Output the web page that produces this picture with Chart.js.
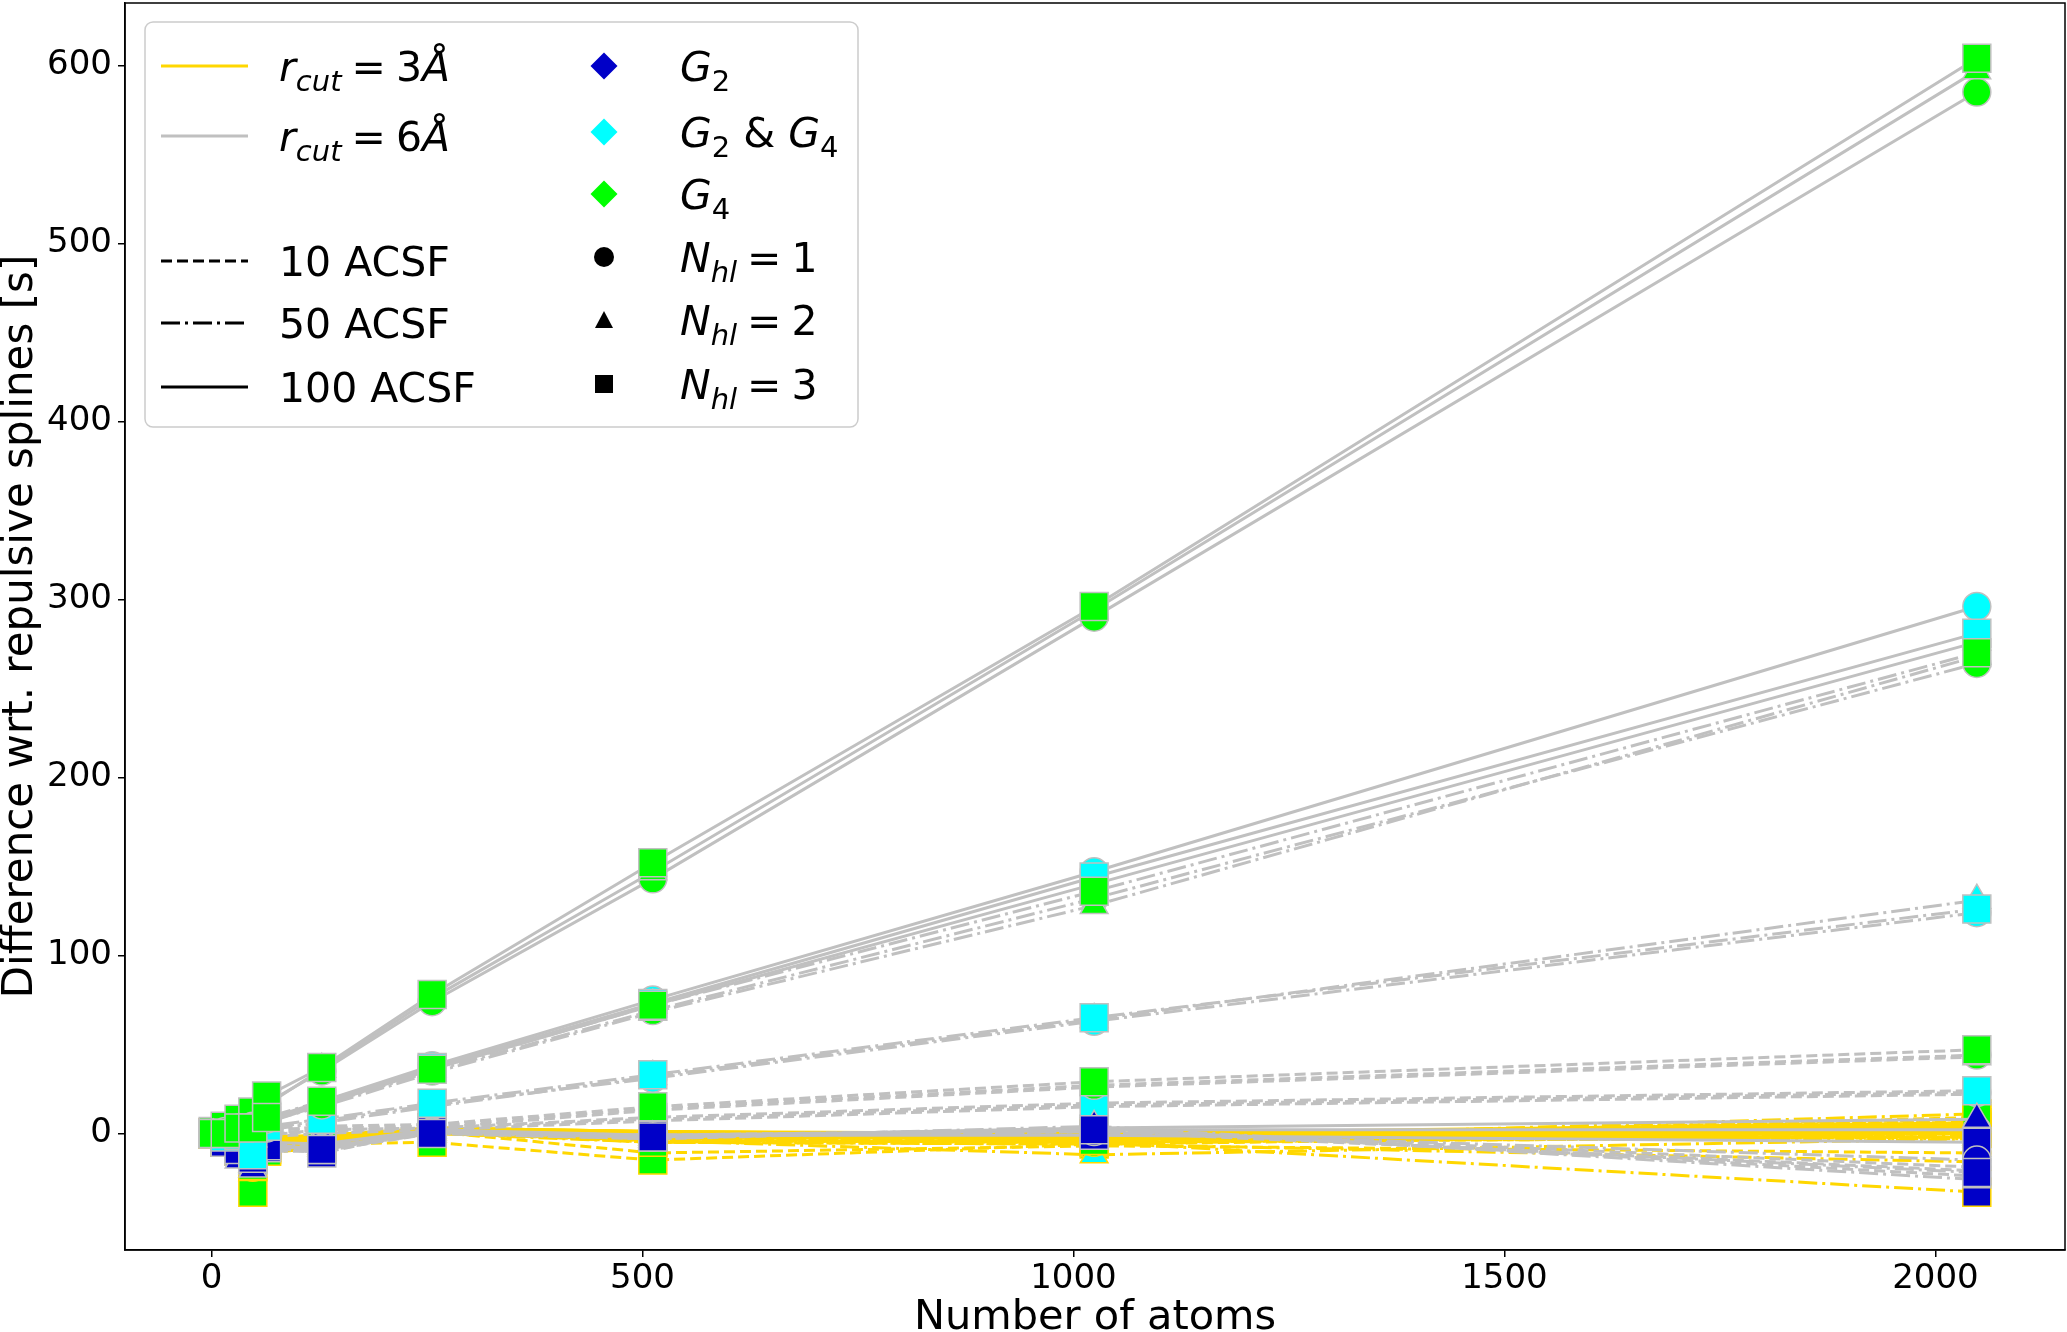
<!DOCTYPE html>
<html>
<head>
<meta charset="utf-8">
<script src="https://cdn.jsdelivr.net/npm/chart.js@4.4.0/dist/chart.umd.min.js"></script>
<style>
  html, body { margin: 0; padding: 0; background: #fff; }
  #wrap { width: 2067px; height: 1332px; }
</style>
</head>
<body>
<div id="wrap"><canvas id="timingChart"></canvas></div>
<script>
// number of atoms in each test cell
const atoms = [2, 16, 32, 48, 64, 128, 256, 512, 1024, 2048];
const xTicks = [0, 500, 1000, 1500, 2000];
const yTicks = [0, 100, 200, 300, 400, 500, 600];

// r_cut = 3 A (gold)
const r3_10_G2_N1   = [0, -3, -7, -10, -5, -4, 1, -1, -3, 4];
const r3_10_G2_N2   = [-1, -5, -10, -15, -8, -6, 0, -3, -5, 2];
const r3_10_G2_N3   = [0, -4, -8, -12, -6, -7, 2, -2, -4, 3];
const r3_10_G24_N1  = [0, -3, -6, -9, -4, -2, 2, 0, -2, 7];
const r3_10_G24_N2  = [-1, -5, -9, -14, -7, -4, 1, -2, -4, 9];
const r3_10_G24_N3  = [0, -4, -7, -11, -5, -3, 2, -1, -3, 8];
const r3_10_G4_N1   = [0, -4, -9, -16, -8, -5, 1, -11, -7, -11];
const r3_10_G4_N2   = [-1, -6, -12, -20, -10, -7, 0, -4, -5, -2];
const r3_10_G4_N3   = [0, -5, -10, -33, -9, -6, -5, -15, -6, 0];
const r3_50_G2_N1   = [0, -4, -8, -12, -6, -5, 2, -3, -4, -3];
const r3_50_G2_N2   = [-1, -6, -11, -17, -9, -7, 1, -5, -6, -16];
const r3_50_G2_N3   = [0, -5, -9, -14, -7, -8, 2, -4, -5, -33];
const r3_50_G24_N1  = [0, -3, -7, -10, -5, -3, 2, -2, -3, 1];
const r3_50_G24_N2  = [-1, -5, -10, -15, -8, -5, 1, -4, -12, -3];
const r3_50_G24_N3  = [0, -4, -8, -12, -6, -4, 2, -3, -4, 0];
const r3_50_G4_N1   = [0, -4, -9, -19, -9, -6, 1, -4, -5, -1];
const r3_50_G4_N2   = [-1, -6, -12, -22, -11, -8, 0, -5, -6, 2];
const r3_50_G4_N3   = [0, -5, -10, -18, -10, -7, 1, -5, -4, 11];
const r3_100_G2_N1  = [0, -2, -5, -8, -3, -2, 3, 0, -2, 3];
const r3_100_G2_N2  = [-1, -4, -8, -12, -6, -4, 2, -1, -3, 1];
const r3_100_G2_N3  = [0, -3, -6, -10, -4, -3, 3, 1, -1, 4];
const r3_100_G24_N1 = [0, -2, -4, -7, -2, -1, 3, 1, -1, 5];
const r3_100_G24_N2 = [-1, -4, -7, -11, -5, -3, 2, 0, -2, 2];
const r3_100_G24_N3 = [0, -3, -5, -9, -3, -2, 3, 1, 0, 6];
const r3_100_G4_N1  = [0, -3, -6, -10, -4, -2, 2, -1, -2, 0];
const r3_100_G4_N2  = [-1, -5, -9, -14, -7, -5, 1, -2, -3, -2];
const r3_100_G4_N3  = [0, -4, -7, -12, -5, -3, 3, 0, -1, 1];

// r_cut = 6 A (silver)
const r6_10_G2_N1   = [0, -4, -9, -13, -7, -8, 1, -1, 2, -19];
const r6_10_G2_N2   = [-1, -6, -12, -18, -10, -10, 0, -3, 3, -24];
const r6_10_G2_N3   = [0, -5, -10, -15, -8, -11, 2, -2, 1, -21];
const r6_10_G24_N1  = [0, -2, -3, -5, 0, 1, 3, 8, 16, 23];
const r6_10_G24_N2  = [-1, -4, -6, -8, -2, 0, 2, 7, 15, 22];
const r6_10_G24_N3  = [0, -3, -5, -12, -1, 2, 3, 9, 17, 24];
const r6_10_G4_N1   = [0, -1, -2, -4, 2, 3, 4, 14, 27, 44];
const r6_10_G4_N2   = [-1, -3, -4, -6, 0, 2, 3, 13, 26, 43];
const r6_10_G4_N3   = [0, -2, -3, -5, 1, 4, 5, 15, 29, 47];
const r6_50_G2_N1   = [0, -4, -8, -12, -6, -7, 1, -2, 1, -15];
const r6_50_G2_N2   = [-1, -6, -11, -17, -9, -9, 0, -3, 4, -26];
const r6_50_G2_N3   = [0, -5, -9, -14, -7, -9, 0, -2, 2, -22];
const r6_50_G24_N1  = [0, -1, 0, -1, 3, 7, 16, 31, 63, 124];
const r6_50_G24_N2  = [-1, -3, -2, -3, 2, 6, 15, 32, 64, 131];
const r6_50_G24_N3  = [0, -2, -1, -12, 4, 8, 17, 33, 65, 126];
const r6_50_G4_N1   = [0, 1, 3, 4, 8, 16, 35, 69, 132, 264];
const r6_50_G4_N2   = [-1, -1, 2, 2, 7, 15, 34, 68, 128, 268];
const r6_50_G4_N3   = [0, 0, 3, 3, 9, 18, 36, 72, 136, 270];
const r6_100_G2_N1  = [0, -3, -7, -11, -5, -6, 2, -1, 2, 2];
const r6_100_G2_N2  = [-1, -5, -15, -20, -8, -8, 1, -2, 3, 8];
const r6_100_G2_N3  = [0, -4, -8, -13, -6, -9, 1, -1, -1, -5];
const r6_100_G24_N1 = [0, 1, 3, 5, 8, 18, 38, 75, 147, 296];
const r6_100_G24_N2 = [-1, -1, 1, 2, 6, 16, 36, 72, 140, 276];
const r6_100_G24_N3 = [0, 0, 2, -12, 7, 17, 37, 73, 144, 281];
const r6_100_G4_N1  = [0, 3, 7, 10, 17, 35, 74, 143, 290, 585];
const r6_100_G4_N2  = [-1, 2, 6, 9, 16, 36, 76, 147, 294, 597];
const r6_100_G4_N3  = [1, 4, 8, 12, 21, 37, 78, 152, 296, 604];

// rcut, number of ACSF, feature set, hidden layers, values (in plotting order)
const runs = [
  [3, 10, 'G2', 1, r3_10_G2_N1], [3, 10, 'G2', 2, r3_10_G2_N2], [3, 10, 'G2', 3, r3_10_G2_N3],
  [3, 10, 'G24', 1, r3_10_G24_N1], [3, 10, 'G24', 2, r3_10_G24_N2], [3, 10, 'G24', 3, r3_10_G24_N3],
  [3, 10, 'G4', 1, r3_10_G4_N1], [3, 10, 'G4', 2, r3_10_G4_N2], [3, 10, 'G4', 3, r3_10_G4_N3],
  [3, 100, 'G2', 1, r3_100_G2_N1], [3, 100, 'G2', 2, r3_100_G2_N2], [3, 100, 'G2', 3, r3_100_G2_N3],
  [3, 100, 'G24', 1, r3_100_G24_N1], [3, 100, 'G24', 2, r3_100_G24_N2], [3, 100, 'G24', 3, r3_100_G24_N3],
  [3, 100, 'G4', 1, r3_100_G4_N1], [3, 100, 'G4', 2, r3_100_G4_N2], [3, 100, 'G4', 3, r3_100_G4_N3],
  [3, 50, 'G2', 1, r3_50_G2_N1], [3, 50, 'G2', 2, r3_50_G2_N2], [3, 50, 'G2', 3, r3_50_G2_N3],
  [3, 50, 'G24', 1, r3_50_G24_N1], [3, 50, 'G24', 2, r3_50_G24_N2], [3, 50, 'G24', 3, r3_50_G24_N3],
  [3, 50, 'G4', 1, r3_50_G4_N1], [3, 50, 'G4', 2, r3_50_G4_N2], [3, 50, 'G4', 3, r3_50_G4_N3],
  [6, 10, 'G2', 1, r6_10_G2_N1], [6, 10, 'G2', 2, r6_10_G2_N2], [6, 10, 'G2', 3, r6_10_G2_N3],
  [6, 10, 'G24', 1, r6_10_G24_N1], [6, 10, 'G24', 2, r6_10_G24_N2], [6, 10, 'G24', 3, r6_10_G24_N3],
  [6, 10, 'G4', 1, r6_10_G4_N1], [6, 10, 'G4', 2, r6_10_G4_N2], [6, 10, 'G4', 3, r6_10_G4_N3],
  [6, 100, 'G2', 1, r6_100_G2_N1], [6, 100, 'G2', 2, r6_100_G2_N2], [6, 100, 'G2', 3, r6_100_G2_N3],
  [6, 100, 'G24', 1, r6_100_G24_N1], [6, 100, 'G24', 2, r6_100_G24_N2], [6, 100, 'G24', 3, r6_100_G24_N3],
  [6, 100, 'G4', 1, r6_100_G4_N1], [6, 100, 'G4', 2, r6_100_G4_N2], [6, 100, 'G4', 3, r6_100_G4_N3],
  [6, 50, 'G2', 1, r6_50_G2_N1], [6, 50, 'G2', 2, r6_50_G2_N2], [6, 50, 'G2', 3, r6_50_G2_N3],
  [6, 50, 'G24', 1, r6_50_G24_N1], [6, 50, 'G24', 2, r6_50_G24_N2], [6, 50, 'G24', 3, r6_50_G24_N3],
  [6, 50, 'G4', 1, r6_50_G4_N1], [6, 50, 'G4', 2, r6_50_G4_N2], [6, 50, 'G4', 3, r6_50_G4_N3],
];

const lineColor = {3: '#ffd700', 6: '#c0c0c0'};
const dashFor = {10: [11, 5], 50: [19, 5, 3, 5], 100: []};
const featColor = {G2: '#0000c8', G24: '#00ffff', G4: '#00ff00'};
const markerFor = {1: ['circle', 14], 2: ['triangle', 16], 3: ['rect', 19.8]};

const FONT = '"DejaVu Sans", sans-serif';
Chart.defaults.font.family = FONT;
Chart.defaults.color = '#000';

const datasets = runs.map(([rc, n, feat, nhl, vals]) => ({
  label: `rcut ${rc}, ${n} ACSF, ${feat}, Nhl ${nhl}`,
  data: atoms.map((a, i) => ({x: a, y: vals[i]})),
  borderColor: lineColor[rc],
  borderWidth: 3,
  borderDash: dashFor[n],
  fill: false,
  tension: 0,
  pointStyle: markerFor[nhl][0],
  pointRadius: markerFor[nhl][1],
  pointBackgroundColor: featColor[feat],
  pointBorderColor: lineColor[rc],
  pointBorderWidth: 1.5,
}));
// chart.js paints the first dataset on top, matplotlib the last one
datasets.reverse();

// frame around the plot area
const framePlugin = {
  id: 'frame',
  afterDatasetsDraw(chart) {
    const {ctx, chartArea: a} = chart;
    ctx.save();
    ctx.strokeStyle = '#000';
    ctx.lineWidth = 1.5;
    ctx.strokeRect(a.left, a.top, a.right - a.left, a.bottom - a.top);
    ctx.restore();
  }
};

// parts: [text, italic, subscript] or a number = horizontal gap in px
function drawMath(ctx, x, y, parts) {
  let cx = x;
  for (const p of parts) {
    if (typeof p === 'number') { cx += p; continue; }
    const [t, it, sub] = p;
    const size = sub ? 29 : 41;
    ctx.font = (it ? 'italic ' : '') + size + 'px ' + FONT;
    ctx.fillText(t, cx, y + (sub ? 10 : 0));
    cx += ctx.measureText(t).width;
  }
}

const EQ = [10, ['=', 0, 0], 10];
const lineEntries = [
  {y: 66, color: lineColor[3], dash: [], parts: [['r', 1, 0], ['cut', 1, 1], ...EQ, ['3', 0, 0], ['Å', 1, 0]]},
  {y: 136, color: lineColor[6], dash: [], parts: [['r', 1, 0], ['cut', 1, 1], ...EQ, ['6', 0, 0], ['Å', 1, 0]]},
  {y: 261, color: '#000', dash: dashFor[10], parts: [['10 ACSF', 0, 0]]},
  {y: 323, color: '#000', dash: dashFor[50], parts: [['50 ACSF', 0, 0]]},
  {y: 387, color: '#000', dash: dashFor[100], parts: [['100 ACSF', 0, 0]]},
];
const markerEntries = [
  {y: 66, shape: 'diamond', color: featColor.G2, parts: [['G', 1, 0], ['2', 0, 1]]},
  {y: 132, shape: 'diamond', color: featColor.G24, parts: [['G', 1, 0], ['2', 0, 1], [' & ', 0, 0], ['G', 1, 0], ['4', 0, 1]]},
  {y: 194, shape: 'diamond', color: featColor.G4, parts: [['G', 1, 0], ['4', 0, 1]]},
  {y: 257, shape: 'circle', color: '#000', parts: [['N', 1, 0], ['hl', 1, 1], ...EQ, ['1', 0, 0]]},
  {y: 320, shape: 'triangle', color: '#000', parts: [['N', 1, 0], ['hl', 1, 1], ...EQ, ['2', 0, 0]]},
  {y: 384, shape: 'rect', color: '#000', parts: [['N', 1, 0], ['hl', 1, 1], ...EQ, ['3', 0, 0]]},
];

const legendPlugin = {
  id: 'mplLegend',
  afterDraw(chart) {
    const ctx = chart.ctx;
    ctx.save();
    const bx = 145, by = 22, bw = 713, bh = 405, r = 8;
    ctx.beginPath();
    ctx.moveTo(bx + r, by);
    ctx.arcTo(bx + bw, by, bx + bw, by + bh, r);
    ctx.arcTo(bx + bw, by + bh, bx, by + bh, r);
    ctx.arcTo(bx, by + bh, bx, by, r);
    ctx.arcTo(bx, by, bx + bw, by, r);
    ctx.closePath();
    ctx.fillStyle = 'rgba(255,255,255,0.8)';
    ctx.fill();
    ctx.strokeStyle = '#cccccc';
    ctx.lineWidth = 1.5;
    ctx.stroke();

    ctx.textBaseline = 'alphabetic';
    ctx.textAlign = 'left';
    for (const e of lineEntries) {
      ctx.beginPath();
      ctx.setLineDash(e.dash);
      ctx.strokeStyle = e.color;
      ctx.lineWidth = 3;
      ctx.moveTo(161, e.y);
      ctx.lineTo(248, e.y);
      ctx.stroke();
      ctx.setLineDash([]);
      ctx.fillStyle = '#000';
      drawMath(ctx, 279, e.y + 15, e.parts);
    }
    for (const e of markerEntries) {
      const mx = 604, my = e.y;
      ctx.fillStyle = e.color;
      ctx.beginPath();
      if (e.shape === 'diamond') {
        ctx.moveTo(mx, my - 13.5); ctx.lineTo(mx + 13.5, my);
        ctx.lineTo(mx, my + 13.5); ctx.lineTo(mx - 13.5, my);
      } else if (e.shape === 'circle') {
        ctx.arc(mx, my, 10, 0, Math.PI * 2);
      } else if (e.shape === 'triangle') {
        ctx.moveTo(mx, my - 9); ctx.lineTo(mx + 9, my + 8); ctx.lineTo(mx - 9, my + 8);
      } else {
        ctx.rect(mx - 9, my - 9, 18, 18);
      }
      ctx.closePath();
      ctx.fill();
      ctx.fillStyle = '#000';
      drawMath(ctx, 680, e.y + 15, e.parts);
    }
    ctx.restore();
  }
};

function noPadding(s) {
  s.paddingLeft = 0; s.paddingRight = 0; s.paddingTop = 0; s.paddingBottom = 0;
}

const ctx = document.getElementById('timingChart').getContext('2d');
const chart = new Chart(ctx, {
  type: 'line',
  data: {datasets: datasets},
  options: {
    responsive: true,
    maintainAspectRatio: false,
    animation: false,
    devicePixelRatio: 1,
    layout: {autoPadding: false, padding: {top: 3, right: 2, left: 0, bottom: 0}},
    plugins: {legend: {display: false}, tooltip: {enabled: false}},
    scales: {
      x: {
        type: 'linear',
        min: -100.3,
        max: 2150.3,
        afterBuildTicks: s => { s.ticks = xTicks.map(v => ({value: v})); },
        afterFit: s => { s.height = 82; noPadding(s); },
        grid: {drawOnChartArea: false, drawTicks: true, tickLength: 7, color: '#000', lineWidth: 1.5},
        border: {display: true, color: '#000', width: 1.5},
        ticks: {font: {size: 34}, padding: 2, color: '#000', maxRotation: 0, callback: v => String(v)},
        title: {display: true, text: 'Number of atoms', font: {size: 41.5, lineHeight: 1.0}, padding: {top: 0, bottom: -7}, color: '#000'},
      },
      y: {
        type: 'linear',
        min: -65.5,
        max: 635,
        afterBuildTicks: s => { s.ticks = yTicks.map(v => ({value: v})); },
        afterFit: s => { s.width = 125; noPadding(s); },
        grid: {drawOnChartArea: false, drawTicks: true, tickLength: 7, color: '#000', lineWidth: 1.5},
        border: {display: true, color: '#000', width: 1.5},
        ticks: {font: {size: 34}, padding: 6, color: '#000', callback: v => String(v)},
        title: {display: true, text: 'Difference wrt. repulsive splines [s]', font: {size: 42, lineHeight: 1.0}, padding: 0, color: '#000'},
      },
    },
  },
  plugins: [framePlugin, legendPlugin],
});
</script>
</body>
</html>
